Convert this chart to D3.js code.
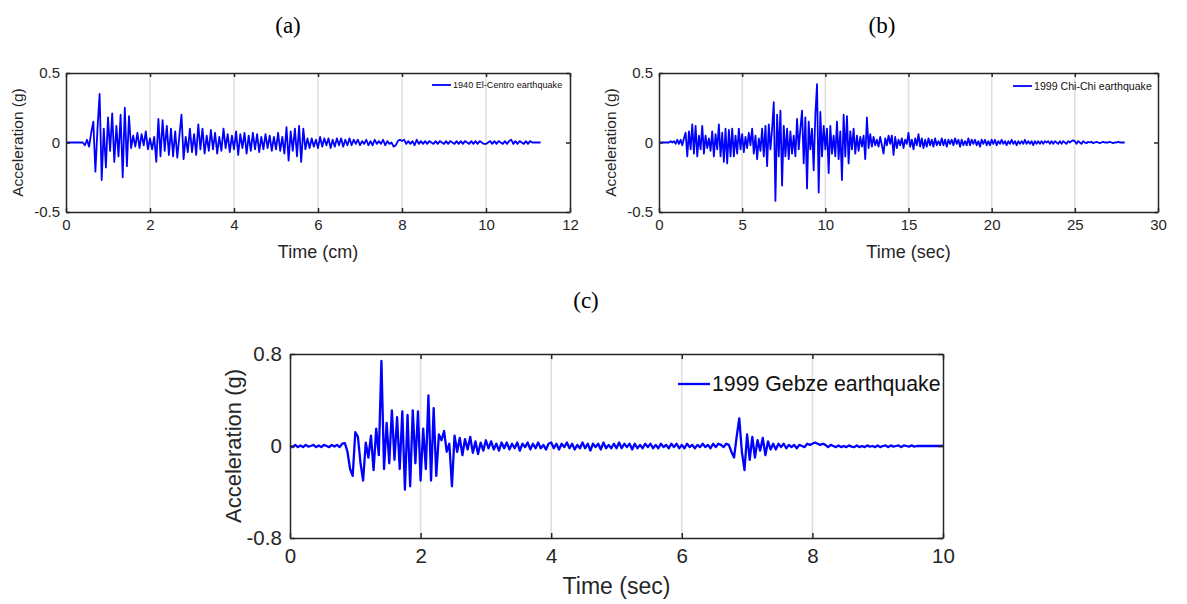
<!DOCTYPE html>
<html>
<head>
<meta charset="utf-8">
<script src="https://cdn.jsdelivr.net/npm/d3@7"></script>
<style>
  body { margin: 0; background: #fff; }
  svg { display: block; font-family: "Liberation Sans", Arial, sans-serif; }
</style>
</head>
<body>
<svg id="chart" width="1187" height="604"></svg>
<script>
// ---- data ----
// 1940 El-Centro, sampled every 0.05 s from t = 0
const elCentroDt = 0.05;
const elCentroAcc = [
  0,0,0,0,0,0,0,0,0,-0.02,0.02,-0.03,0.07,0.15,-0.21,0.1,0.35,-0.27,0.1,-0.18,
  0.18,-0.06,0.21,-0.14,0.12,-0.1,0.2,-0.25,0.25,-0.17,0.19,-0.04,0.05,-0.03,0.07,-0.04,0.06,-0.02,0.08,-0.05,
  0.03,-0.05,0.04,-0.14,0.17,-0.1,0.16,-0.06,0.12,-0.09,0.1,-0.1,0.08,-0.11,0.05,0.2,-0.12,0.04,-0.07,0.1,
  -0.07,0.06,-0.09,0.13,-0.05,0.1,-0.08,0.05,-0.06,0.09,-0.05,0.07,-0.08,0.04,-0.06,0.1,-0.04,0.06,-0.07,0.05,
  -0.05,0.08,-0.09,0.06,-0.04,0.07,-0.08,0.05,-0.06,0.07,-0.05,0.06,-0.07,0.04,-0.05,0.06,-0.04,0.05,-0.06,0.04,
  -0.05,0.07,-0.06,0.04,-0.08,0.11,-0.13,0.08,-0.06,0.1,-0.1,0.12,-0.14,0.1,-0.05,0.03,-0.04,0.03,-0.03,0.02,
  -0.04,0.04,-0.03,0.03,-0.02,0.03,-0.04,0.02,-0.03,0.03,-0.02,0.03,-0.03,0.02,-0.02,0.03,-0.02,0.02,-0.01,0.02,
  -0.02,0.01,-0.01,0.02,-0.02,0.01,-0.02,0.02,-0.01,0.01,-0.01,0.02,-0.02,0.01,-0.01,0,-0.03,-0.02,0.01,0.02,
  0.01,0.02,-0.01,0.01,-0.01,0.01,-0.02,0.02,-0.01,0.01,-0.01,0.01,-0.01,0.01,0,-0.01,0.01,-0.01,0.01,0,
  -0.01,0.01,-0.01,0.01,0,-0.01,0.01,-0.01,0.01,-0.01,0.01,0,-0.01,0.01,-0.01,0.01,-0.01,0.01,0,-0.01,
  -0.01,0,0.01,-0.01,0.01,-0.01,0.01,0,-0.01,0.01,-0.01,0.01,0.02,-0.01,0.01,-0.01,0.01,0,-0.01,0.01,
  -0.01,0.01,0,0,0,0,0
];

// 1999 Chi-Chi, sampled every 0.1 s from t = 0
const chiChiDt = 0.1;
const chiChiAcc = [
  0,0,0,0,0,0,0,0.01,0,0.01,
  -0.01,0.02,-0.01,0.02,-0.02,0.03,0.07,-0.1,0.08,-0.05,
  0.13,-0.08,0.12,-0.1,0.05,-0.05,0.12,-0.08,0.05,-0.04,
  0.03,-0.06,0.08,-0.1,0.06,-0.05,0.13,-0.1,0.07,-0.14,
  0.1,-0.15,0.09,-0.1,0.1,-0.1,0.05,-0.08,0.1,-0.05,
  0.06,-0.07,0.04,-0.04,0.07,-0.02,0.1,-0.08,0.05,-0.12,
  0.03,-0.06,0.1,-0.1,0.12,-0.17,0.13,-0.05,0.1,0.29,
  -0.42,0.2,-0.1,0.23,-0.31,0.12,-0.1,0.1,-0.12,0.08,
  -0.08,0.05,-0.1,0.17,-0.05,0.1,0.23,-0.15,0.18,-0.33,
  0.15,-0.05,0.1,-0.2,0.2,0.42,-0.36,0.22,-0.1,0.12,
  -0.05,0.1,-0.22,0.12,-0.08,0.05,-0.1,0.15,-0.12,0.08,
  -0.27,0.2,-0.1,0.19,-0.15,0.08,-0.05,0.1,-0.08,0.05,
  -0.06,0.04,-0.03,0.05,-0.12,0.18,-0.04,0.06,-0.03,0.04,
  -0.02,0.02,-0.03,0.04,-0.02,-0.08,0.03,-0.02,0.05,-0.01,
  0.05,-0.09,0.04,-0.04,0.02,-0.02,0.03,-0.04,0.02,-0.01,
  0.07,-0.03,0.02,-0.05,0.03,-0.02,0.06,-0.03,0.03,-0.04,
  0.02,-0.03,0.03,-0.02,0.02,-0.03,0.03,-0.02,0.01,-0.02,
  0.03,-0.02,0.02,-0.03,0.02,-0.01,0.02,-0.02,0.03,-0.01,
  0.02,-0.03,0.02,-0.02,0.01,-0.02,0.03,-0.02,0.02,-0.01,
  0.02,-0.02,0.01,-0.03,0.02,-0.01,0.02,-0.02,0.01,-0.02,
  0.02,-0.01,0.02,-0.02,0.01,-0.01,0.02,-0.01,0.01,-0.02,
  0.01,-0.01,0.02,-0.01,0.01,-0.02,0.01,-0.01,0.01,-0.01,
  0.02,-0.01,0.01,-0.01,0.01,-0.02,0.01,-0.01,0.01,-0.01,
  0.01,-0.01,0.01,0,0.01,-0.01,0.01,-0.01,0.01,0,
  -0.01,0.01,-0.01,0.01,0,-0.01,0.01,0,0.01,0.015,
  0.01,-0.01,0.01,0,-0.01,0.01,0,-0.005,0.005,0,
  0.005,-0.005,0,0.005,0,-0.005,0,0.005,0,0,
  0,0.005,0,-0.005,0,0,0.005,0,0,0,
  0
];

// 1999 Gebze, sampled every 0.04 s from t = 0
const gebzeDt = 0.04;
const gebzeAcc = [
  0,-0.01,0.01,-0.01,0.005,-0.01,0.01,-0.005,0,0.01,-0.01,0.005,-0.01,0.01,0,-0.01,0.01,-0.005,0.01,-0.01,0.02,0.025,-0.05,-0.2,-0.26,
  0.12,0.08,-0.15,-0.3,0.03,-0.1,0.09,-0.21,0.15,-0.08,0.74,-0.2,0.2,-0.15,0.31,-0.12,0.25,-0.2,0.3,-0.38,0.27,-0.35,0.31,-0.15,0.3,
  -0.3,0.15,-0.2,0.44,-0.3,0.33,-0.26,0.1,0.05,0.13,-0.05,0.02,-0.35,0.09,-0.05,0.07,-0.08,0.06,-0.03,0.08,-0.06,0.04,-0.07,0.03,-0.04,
  0.05,-0.02,0.04,-0.03,0.02,-0.04,0.03,-0.02,0.03,-0.03,0.02,-0.02,0.03,-0.04,0.02,-0.01,0.03,-0.03,0.02,-0.02,0.03,-0.02,0.01,-0.03,0.02,
  0.03,-0.02,0.02,-0.03,0.02,-0.01,0.03,-0.02,0.02,-0.03,0.01,-0.02,0.03,-0.02,0.02,-0.04,0.02,-0.01,0.02,-0.03,0.03,-0.02,0.01,-0.02,0.02,
  -0.02,0.03,-0.02,0.02,-0.01,0.02,-0.03,0.02,-0.02,0.01,-0.02,0.02,-0.01,0.02,-0.02,0.01,-0.02,0.02,-0.01,0.01,-0.02,0.02,-0.01,0.02,-0.02,
  0.01,-0.02,0.02,-0.01,0.01,-0.02,0.01,-0.01,0.02,-0.01,0.01,-0.02,0.02,-0.01,0.02,0.01,-0.01,0.02,0.01,-0.05,-0.1,0.08,0.24,-0.05,-0.21,
  0.1,-0.12,0.08,-0.1,0.05,-0.04,0.07,-0.08,0.04,-0.03,0.02,-0.03,0.02,-0.01,0.02,-0.02,0.01,-0.01,0.01,-0.02,0.01,0,-0.01,0.02,0.01,
  0.02,0.03,0.02,0.01,0.02,0.01,-0.01,0.01,0,-0.01,0.005,-0.01,0,-0.01,0.005,-0.005,-0.01,0.005,-0.01,0,-0.01,0.005,-0.005,0,-0.01,
  0.005,-0.01,0,0.005,-0.01,0.005,-0.005,0,0.005,-0.01,0.005,0,-0.005,0.005,-0.005,0,0,0,0,0,0,0,0,0,0,
  0
];

const elCentroXTicks = [0, 2, 4, 6, 8, 10, 12];
const chiChiXTicks = [0, 5, 10, 15, 20, 25, 30];
const gebzeXTicks = [0, 2, 4, 6, 8, 10];
const abYTicks = [-0.5, 0, 0.5];
const gebzeYTicks = [-0.8, 0, 0.8];

const svg = d3.select("#chart");
const AX = "#262626";

function toPoints(dt, vals) {
  return vals.map((v, i) => [i * dt, v]);
}

function panel(o) {
  const x = d3.scaleLinear().domain(o.xDomain).range([o.left, o.right]);
  const y = d3.scaleLinear().domain(o.yDomain).range([o.bottom, o.top]);
  const g = svg.append("g");

  // vertical grid lines
  g.append("g").selectAll("line")
    .data(o.xTicks.slice(1, -1))
    .join("line")
    .attr("x1", d => x(d)).attr("x2", d => x(d))
    .attr("y1", o.top).attr("y2", o.bottom)
    .attr("stroke", "#dedede").attr("stroke-width", 1.5);

  // the trace
  const line = d3.line().x(d => x(d[0])).y(d => y(d[1]));
  g.append("path")
    .datum(toPoints(o.dt, o.values))
    .attr("fill", "none")
    .attr("stroke", "#0000ff")
    .attr("stroke-width", o.lw)
    .attr("stroke-linejoin", "round")
    .attr("d", line);

  // box axes with inward ticks
  const fmt = d => d === 0 ? "0" : String(d);
  const style = (sel, showLabels) => {
    sel.select(".domain").attr("stroke", AX).attr("stroke-width", 1.5);
    sel.selectAll(".tick line").attr("stroke", AX).attr("stroke-width", 1.5);
    sel.selectAll(".tick text")
      .attr("fill", AX)
      .style("font-size", o.tickFont + "px")
      .style("display", showLabels ? null : "none");
  };
  g.append("g").attr("transform", `translate(0,${o.bottom})`)
    .call(d3.axisBottom(x).tickValues(o.xTicks).tickFormat(fmt).tickSize(-o.tick).tickSizeOuter(0).tickPadding(o.tickFont * 0.5))
    .call(s => style(s, true));
  g.append("g").attr("transform", `translate(0,${o.top})`)
    .call(d3.axisTop(x).tickValues(o.xTicks).tickSize(-o.tick).tickSizeOuter(0))
    .call(s => style(s, false));
  g.append("g").attr("transform", `translate(${o.left},0)`)
    .call(d3.axisLeft(y).tickValues(o.yTicks).tickFormat(fmt).tickSize(-o.tick).tickSizeOuter(0).tickPadding(o.tickFont * 0.4))
    .call(s => style(s, true));
  g.append("g").attr("transform", `translate(${o.right},0)`)
    .call(d3.axisRight(y).tickValues(o.yTicks).tickSize(-o.tick).tickSizeOuter(0))
    .call(s => style(s, false));
  g.selectAll(".domain").attr("fill", "none");

  // axis labels
  g.append("text")
    .attr("x", (o.left + o.right) / 2).attr("y", o.xLabelY)
    .attr("text-anchor", "middle").attr("fill", AX)
    .style("font-size", o.xLabelFont + "px")
    .text(o.xLabel);
  g.append("text")
    .attr("transform", `translate(${o.yLabelX},${(o.top + o.bottom) / 2}) rotate(-90)`)
    .attr("text-anchor", "middle").attr("fill", AX)
    .style("font-size", o.yLabelFont + "px")
    .text("Acceleration (g)");

  // legend
  g.append("line")
    .attr("x1", o.legX).attr("x2", o.legX + o.legLen)
    .attr("y1", o.legY).attr("y2", o.legY)
    .attr("stroke", "#0000ff").attr("stroke-width", o.lw);
  g.append("text")
    .attr("x", o.legX + o.legLen + 2).attr("y", o.legY)
    .attr("dy", "0.35em").attr("fill", "#111")
    .style("font-size", o.legFont + "px")
    .text(o.legend);

  // panel letter
  svg.append("text")
    .attr("x", o.capX).attr("y", o.capY)
    .attr("text-anchor", "middle")
    .style("font-family", "'Liberation Serif', 'Times New Roman', serif")
    .style("font-size", "23px")
    .text(o.caption);
}

panel({
  left: 66, right: 570, top: 73, bottom: 212,
  xDomain: [0, 12], yDomain: [-0.5, 0.5],
  xTicks: elCentroXTicks, yTicks: abYTicks,
  dt: elCentroDt, values: elCentroAcc, lw: 1.8,
  tick: 4, tickFont: 15, xLabelFont: 18, yLabelFont: 15.5,
  xLabel: "Time (cm)", xLabelY: 258, yLabelX: 23,
  legend: "1940 El-Centro earthquake", legX: 432, legY: 85, legLen: 19, legFont: 9.1,
  caption: "(a)", capX: 288, capY: 33
});

panel({
  left: 659, right: 1158, top: 73, bottom: 212,
  xDomain: [0, 30], yDomain: [-0.5, 0.5],
  xTicks: chiChiXTicks, yTicks: abYTicks,
  dt: chiChiDt, values: chiChiAcc, lw: 1.8,
  tick: 4, tickFont: 15, xLabelFont: 18, yLabelFont: 15.5,
  xLabel: "Time (sec)", xLabelY: 258, yLabelX: 616,
  legend: "1999 Chi-Chi earthquake", legX: 1013, legY: 86, legLen: 19, legFont: 10.6,
  caption: "(b)", capX: 882, capY: 33
});

panel({
  left: 290, right: 943, top: 354, bottom: 538,
  xDomain: [0, 10], yDomain: [-0.8, 0.8],
  xTicks: gebzeXTicks, yTicks: gebzeYTicks,
  dt: gebzeDt, values: gebzeAcc, lw: 2.3,
  tick: 5, tickFont: 20.5, xLabelFont: 23, yLabelFont: 22,
  xLabel: "Time (sec)", xLabelY: 594, yLabelX: 241,
  legend: "1999 Gebze earthquake", legX: 678, legY: 384, legLen: 32, legFont: 21.3,
  caption: "(c)", capX: 586, capY: 308
});
</script>
</body>
</html>
